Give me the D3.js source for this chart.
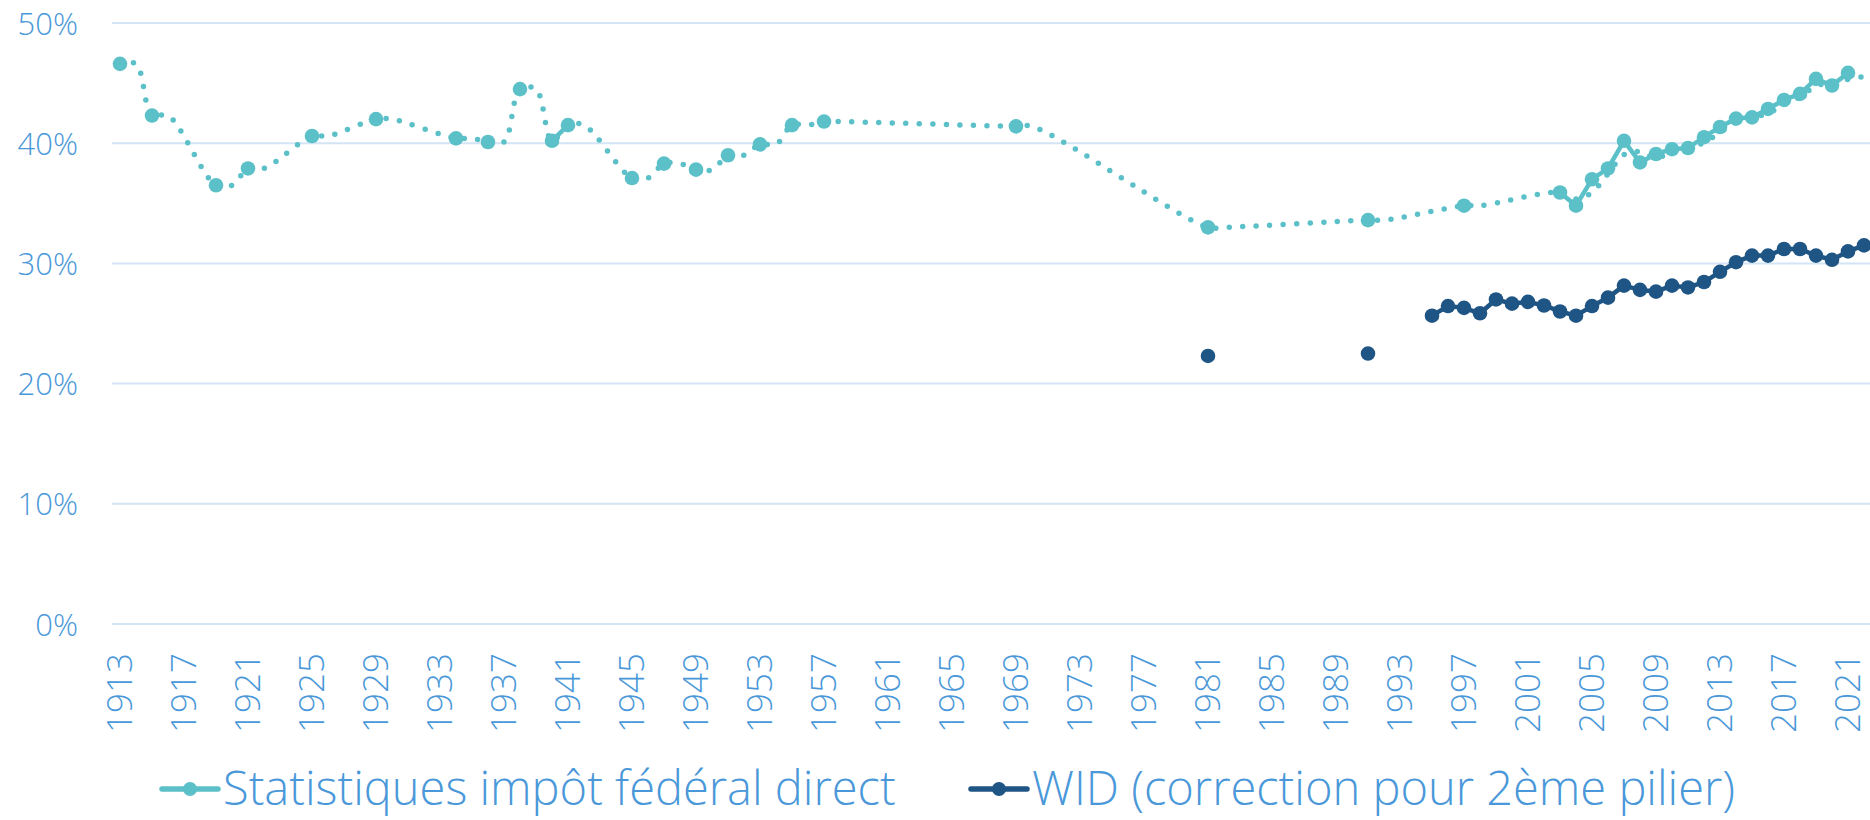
<!DOCTYPE html>
<html>
<head>
<meta charset="utf-8">
<script src="https://cdn.jsdelivr.net/npm/d3@7"></script>
<style>
  body { margin: 0; background: #fff; }
  text { font-family: "Open Sans", "Noto Sans", sans-serif; font-weight: 300; fill: #4a98d9; }
</style>
</head>
<body>
<svg id="chart" width="1870" height="820"></svg>
<script>
// categories: one per year, labels every 4 years
const years = d3.range(1913, 2023);
const labelYears = years.filter(function(y) { return (y - 1913) % 4 === 0; });
const yTicks = [0, 10, 20, 30, 40, 50];

// Statistiques impôt fédéral direct (markers)
const ifdYears = [1913, 1915, 1919, 1921, 1925, 1929, 1934, 1936, 1938, 1940, 1941, 1945, 1947, 1949,
    1951, 1953, 1955, 1957, 1969, 1981, 1991, 1997, 2003, 2004, 2005, 2006, 2007, 2008, 2009, 2010,
    2011, 2012, 2013, 2014, 2015, 2016, 2017, 2018, 2019, 2020, 2021];
const ifdValues = [46.6, 42.3, 36.5, 37.9, 40.6, 42.0, 40.4, 40.1, 44.5, 40.2, 41.5, 37.1, 38.3, 37.8,
    39.0, 39.9, 41.5, 41.8, 41.4, 33.0, 33.6, 34.8, 35.9, 34.8, 37.0, 37.9, 40.2, 38.4, 39.1, 39.5,
    39.6, 40.5, 41.35, 42.05, 42.15, 42.85, 43.6, 44.1, 45.35, 44.8, 45.85];

// dotted smoothed line under the markers
const trendYears = [1913, 1914, 1915, 1916, 1919, 1920, 1921, 1922, 1925, 1926, 1929, 1930, 1934, 1935,
    1936, 1937, 1938, 1939, 1940, 1941, 1942, 1945, 1946, 1947, 1948, 1949, 1950, 1951, 1952, 1953,
    1954, 1955, 1956, 1957, 1958, 1969, 1970, 1981, 1982, 1991, 1992, 1997, 1998, 2003, 2004, 2005,
    2006, 2007, 2008, 2009, 2010, 2011, 2012, 2013, 2014, 2015, 2016, 2017, 2018, 2019, 2020, 2021, 2022];
const trendValues = [46.6, 46.6, 42.3, 42.3, 36.5, 36.5, 37.9, 37.9, 40.6, 40.6, 42.0, 42.0, 40.4, 40.4,
    40.1, 40.1, 44.5, 44.5, 40.2, 41.5, 41.5, 37.1, 37.1, 38.3, 38.3, 37.8, 37.8, 39.0, 39.0, 39.9,
    39.9, 41.5, 41.5, 41.8, 41.8, 41.4, 41.4, 33.0, 33.0, 33.6, 33.6, 34.8, 34.8, 35.9, 35.35, 35.9,
    37.45, 39.05, 39.3, 38.75, 39.3, 39.55, 40.05, 40.9, 41.7, 42.1, 42.5, 43.2, 43.85, 44.75, 45.05, 45.3, 45.55];

// WID (correction pour 2ème pilier)
const widYears = [1981, 1991, 1995, 1996, 1997, 1998, 1999, 2000, 2001, 2002, 2003, 2004, 2005, 2006,
    2007, 2008, 2009, 2010, 2011, 2012, 2013, 2014, 2015, 2016, 2017, 2018, 2019, 2020, 2021, 2022];
const widValues = [22.3, 22.5, 25.65, 26.45, 26.3, 25.85, 27.0, 26.65, 26.8, 26.5, 26.0, 25.65, 26.45, 27.15,
    28.15, 27.8, 27.65, 28.15, 28.0, 28.45, 29.3, 30.1, 30.65, 30.65, 31.2, 31.2, 30.65, 30.3, 31.0, 31.5];

const seriesNames = ["Statistiques impôt fédéral direct", "WID (correction pour 2ème pilier)"];
const seriesColors = ["#5bc0c8", "#1f5584"];

const svg = d3.select("#chart");
const plotLeft = 112, plotRight = 1870;

var xBand = d3.scaleBand().domain(years).range([plotLeft, plotLeft + 16 * years.length]);
function xPos(y) { return xBand(y) + xBand.bandwidth() / 2; }
var yScale = d3.scaleLinear().domain([0, 50]).range([624, 23]);

function toPoints(ys, vs) {
    return ys.map(function(y, i) { return {year: y, value: vs[i]}; });
}
function fullYears(ys, vs) {
    return years.map(function(y) {
        var i = ys.indexOf(y);
        return {year: y, value: i < 0 ? null : vs[i]};
    });
}

// gridlines
svg.append("g")
    .selectAll("line")
    .data(yTicks)
    .enter()
    .append("line")
        .attr("x1", plotLeft)
        .attr("x2", plotRight)
        .attr("y1", function(d) { return yScale(d); })
        .attr("y2", function(d) { return yScale(d); })
        .attr("stroke", "#d3e5f5")
        .attr("stroke-width", 2);

// y axis labels
var yAxis = svg.append("g")
    .attr("transform", "translate(78, 0)")
    .call(d3.axisLeft(yScale).tickValues(yTicks).tickSize(0).tickPadding(0)
        .tickFormat(function(d) { return d + "%"; }));
yAxis.select(".domain").remove();
yAxis.selectAll("text").attr("font-size", 31).attr("dy", "0.36em");

// x axis labels, rotated
var xAxis = svg.append("g")
    .attr("transform", "translate(0, 624)")
    .call(d3.axisBottom(xBand).tickValues(labelYears).tickSize(0));
xAxis.select(".domain").remove();
xAxis.selectAll("text")
    .attr("font-size", 35)
    .attr("transform", "rotate(-90)")
    .attr("x", -29)
    .attr("y", 0)
    .attr("dy", "0.35em")
    .style("text-anchor", "end");

// dotted smoothed line
var trendLine = d3.line()
    .x(function(d) { return xPos(d.year); })
    .y(function(d) { return yScale(d.value); })
    .curve(d3.curveCatmullRom.alpha(0.5));

svg.append("path")
    .datum(toPoints(trendYears, trendValues))
    .attr("d", trendLine)
    .attr("fill", "none")
    .attr("stroke", seriesColors[0])
    .attr("stroke-width", 5.5)
    .attr("stroke-linecap", "round")
    .attr("stroke-dasharray", "0 13.5");

function drawSeries(ys, vs, color) {
    var line = d3.line()
        .defined(function(d) { return d.value != null; })
        .x(function(d) { return xPos(d.year); })
        .y(function(d) { return yScale(d.value); });

    svg.append("path")
        .datum(fullYears(ys, vs))
        .attr("d", line)
        .attr("fill", "none")
        .attr("stroke", color)
        .attr("stroke-width", 4.5)
        .attr("stroke-linejoin", "round");

    svg.append("g")
        .selectAll("circle")
        .data(toPoints(ys, vs))
        .enter()
        .append("circle")
            .attr("cx", function(d) { return xPos(d.year); })
            .attr("cy", function(d) { return yScale(d.value); })
            .attr("r", 7.3)
            .style("fill", color);
}

drawSeries(ifdYears, ifdValues, seriesColors[0]);
drawSeries(widYears, widValues, seriesColors[1]);

// legend
var legendX = [162, 971];
var legend = svg.append("g")
    .selectAll("g")
    .data(seriesNames)
    .enter()
    .append("g")
        .attr("transform", function(d, i) { return "translate(" + legendX[i] + ", 789)"; });

legend.append("line")
    .attr("x1", 0).attr("x2", 56)
    .attr("stroke", function(d, i) { return seriesColors[i]; })
    .attr("stroke-width", 5.5)
    .attr("stroke-linecap", "round");
legend.append("circle")
    .attr("cx", 28)
    .attr("r", 7)
    .style("fill", function(d, i) { return seriesColors[i]; });
legend.append("text")
    .attr("x", 61)
    .attr("y", 16)
    .attr("font-size", 47)
    .text(function(d) { return d; });
</script>
</body>
</html>
